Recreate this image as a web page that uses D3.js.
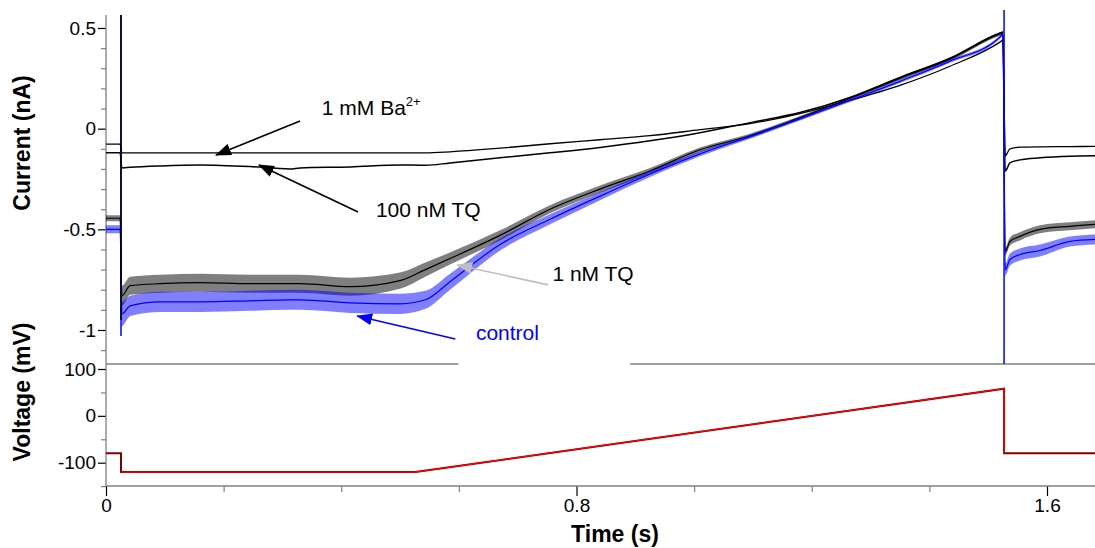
<!DOCTYPE html>
<html>
<head>
<meta charset="utf-8">
<title>Ramp currents</title>
<script src="https://d3js.org/d3.v7.min.js"></script>
<style>
  body { margin: 0; background: #fff; }
  svg { display: block; font-family: Arial, "Liberation Sans", sans-serif; }
  .title { font-size: 23px; font-weight: bold; }
  .note { font-size: 21px; }
</style>
</head>
<body>
<script>
// time points (s) shared by the current traces
var timeS = [0, 0.024, 0.027, 0.041, 0.092, 0.16, 0.245, 0.313, 0.33, 0.415, 0.5, 0.543, 0.585,
             0.67, 0.755, 0.84, 0.925, 1.01, 1.095, 1.18, 1.265, 1.35, 1.435, 1.52, 1.525,
             1.529, 1.537, 1.554, 1.588, 1.639, 1.682];

// currents (nA)
var ba = [-0.077, -0.077, -0.12, -0.12, -0.12, -0.12, -0.12, -0.12, -0.12, -0.12, -0.12, -0.12, -0.115,
          -0.097, -0.075, -0.055, -0.035, -0.005, 0.025, 0.075, 0.14, 0.215, 0.31, 0.43, 0.44,
          -0.135, -0.1, -0.092, -0.09, -0.089, -0.088];
var tq100 = [-0.12, -0.12, -0.195, -0.192, -0.185, -0.18, -0.188, -0.2, -0.195, -0.19, -0.18, -0.182, -0.17,
             -0.145, -0.12, -0.093, -0.06, -0.02, 0.03, 0.08, 0.155, 0.255, 0.35, 0.475, 0.48,
             -0.21, -0.17, -0.155, -0.145, -0.137, -0.135];
var tq1 = [-0.445, -0.445, -0.83, -0.78, -0.77, -0.765, -0.77, -0.77, -0.77, -0.785, -0.755, -0.7, -0.645,
           -0.53, -0.4, -0.3, -0.21, -0.105, -0.035, 0.055, 0.15, 0.25, 0.345, 0.47, 0.475,
           -0.61, -0.56, -0.535, -0.5, -0.485, -0.475];
var control = [-0.5, -0.5, -0.92, -0.88, -0.86, -0.86, -0.855, -0.85, -0.85, -0.865, -0.87, -0.85, -0.76,
               -0.575, -0.45, -0.335, -0.225, -0.125, -0.04, 0.048, 0.14, 0.235, 0.335, 0.455, 0.47,
               -0.7, -0.65, -0.625, -0.605, -0.56, -0.55];
// half width of the noise band (nA)
var noiseTq1 = [0.015, 0.015, 0.05, 0.045, 0.045, 0.045, 0.045, 0.045, 0.045, 0.045, 0.04, 0.035, 0.03,
                0.025, 0.02, 0.018, 0.015, 0.012, 0.01, 0.008, 0.008, 0.008, 0.008, 0.008, 0.008,
                0.02, 0.02, 0.02, 0.02, 0.02, 0.02];
var noiseCtl = [0.02, 0.02, 0.06, 0.05, 0.05, 0.05, 0.05, 0.05, 0.05, 0.05, 0.05, 0.045, 0.04,
                0.03, 0.025, 0.02, 0.015, 0.012, 0.01, 0.008, 0.008, 0.008, 0.008, 0.008, 0.008,
                0.03, 0.03, 0.03, 0.03, 0.025, 0.025];

// capacitive transients: time, top, bottom (nA)
var spikeOn = [0.0255, 0.565, -1.03, -0.95];
var spikeOff = [1.527, 0.59, -1.175];

// voltage protocol (mV)
var protoT = [0, 0.0255, 0.0255, 0.526, 1.527, 1.527, 1.682];
var protoV = [-80, -80, -120, -120, 58, -80, -80];

// ticks
var currentTicks = [-1, -0.5, 0, 0.5];
var currentMinor = [-1.1, -0.9, -0.8, -0.7, -0.6, -0.4, -0.3, -0.2, -0.1, 0.1, 0.2, 0.3, 0.4];
var voltageTicks = [-100, 0, 100];
var voltageMinor = [-150, -50, 50];
var timeTicks = [0, 0.8, 1.6];
var timeMinor = [0.2, 0.4, 0.6, 1.0, 1.2, 1.4];

// annotations: label, colour, text pos [t, nA], arrow tail, arrow tip
var notes = [
  {label: "1 mM Ba", sup: "2+", color: "#000", text: [0.367, 0.068], tail: [0.33, 0.038], tip: [0.187, -0.131]},
  {label: "100 nM TQ", color: "#000", text: [0.459, -0.439], tail: [0.4286, -0.414], tip: [0.26, -0.18]},
  {label: "1 nM TQ", color: "#000", arrow: "#bfbfbf", text: [0.759, -0.757], tail: [0.752, -0.776], tip: [0.597, -0.677]},
  {label: "control", color: "#0000ff", text: [0.629, -1.05], tail: [0.594, -1.045], tip: [0.427, -0.93]}
];

var W = 1095, H = 548;
var xLeft = 106, xRight = 1095, iTop = 15, iBot = 364, vBot = 486;
var fontFam = "Arial, 'Liberation Sans', sans-serif";

var svg = d3.select("body").append("svg")
    .attr("width", W)
    .attr("height", H);

var x = d3.scaleLinear().domain([0, 1.6]).range([106, 1047]);
var yI = d3.scaleLinear().domain([-1, 0.5]).range([330, 28]);
var yV = d3.scaleLinear().domain([-100, 100]).range([462.7, 369]);

var defs = svg.append("defs");
defs.append("clipPath").attr("id", "clipI")
  .append("rect").attr("x", xLeft).attr("y", 0).attr("width", xRight - xLeft).attr("height", iBot);

["#000", "#bfbfbf", "#0000ff"].forEach(function(c, k) {
  defs.append("marker")
      .attr("id", "arrow" + k)
      .attr("markerUnits", "userSpaceOnUse")
      .attr("viewBox", "0 0 16 12")
      .attr("markerWidth", 16).attr("markerHeight", 12)
      .attr("refX", 15).attr("refY", 6)
      .attr("orient", "auto")
    .append("path")
      .attr("d", "M0,0 L16,6 L0,12 Z")
      .attr("fill", c);
});

// ---- axes ----
var gray = "#808080";
function fmt(d) { return String(d); }

function styleAxis(g, color) {
  g.select(".domain").remove();
  g.attr("font-size", 19).attr("font-family", fontFam);
  g.selectAll(".tick line").attr("stroke", color).attr("stroke-width", 1.2);
  g.selectAll(".tick text").attr("fill", "#000");
}

svg.append("g").attr("transform", "translate(" + xLeft + ",0)")
    .call(d3.axisLeft(yI).tickValues(currentMinor).tickSize(5).tickFormat(""))
    .call(styleAxis, gray);
svg.append("g").attr("transform", "translate(" + xLeft + ",0)")
    .call(d3.axisLeft(yI).tickValues(currentTicks).tickSize(8).tickPadding(2).tickFormat(fmt))
    .call(styleAxis, "#000");

svg.append("g").attr("transform", "translate(" + xLeft + ",0)")
    .call(d3.axisLeft(yV).tickValues(voltageMinor).tickSize(5).tickFormat(""))
    .call(styleAxis, gray);
svg.append("g").attr("transform", "translate(" + xLeft + ",0)")
    .call(d3.axisLeft(yV).tickValues(voltageTicks).tickSize(8).tickPadding(2).tickFormat(fmt))
    .call(styleAxis, "#000");

svg.append("g").attr("transform", "translate(0," + vBot + ")")
    .call(d3.axisBottom(x).tickValues(timeMinor).tickSize(6).tickFormat(""))
    .call(styleAxis, gray);
svg.append("g").attr("transform", "translate(0," + vBot + ")")
    .call(d3.axisBottom(x).tickValues(timeTicks).tickSize(10).tickPadding(3).tickFormat(fmt))
    .call(styleAxis, "#000");

// axis lines
var frame = [
  [xLeft, iTop, xLeft, vBot],
  [xLeft, vBot, xRight, vBot],
  [xLeft, iBot, xRight, iBot]
];
svg.selectAll(".frame").data(frame).enter().append("line")
    .attr("x1", function(d) { return d[0]; }).attr("y1", function(d) { return d[1]; })
    .attr("x2", function(d) { return d[2]; }).attr("y2", function(d) { return d[3]; })
    .attr("stroke", gray).attr("stroke-width", 1.3);

// white box behind the "control" label cuts the panel divider
svg.append("rect")
    .attr("x", x(0.599)).attr("y", iBot - 4)
    .attr("width", x(0.891) - x(0.599)).attr("height", 8)
    .attr("fill", "#fff");

// ---- current traces ----
var plot = svg.append("g").attr("clip-path", "url(#clipI)");

function lineOf(vals) {
  return d3.line()
      .x(function(d, i) { return x(timeS[i]); })
      .y(function(d) { return yI(d); })
      .curve(d3.curveMonotoneX)(vals);
}
function bandOf(vals, noise) {
  return d3.area()
      .x(function(d, i) { return x(timeS[i]); })
      .y0(function(d, i) { return yI(d - noise[i]); })
      .y1(function(d, i) { return yI(d + noise[i]); })
      .curve(d3.curveMonotoneX)(vals);
}

plot.append("path").attr("d", lineOf(ba)).attr("fill", "none").attr("stroke", "#000").attr("stroke-width", 1.3);
plot.append("path").attr("d", lineOf(tq100)).attr("fill", "none").attr("stroke", "#000").attr("stroke-width", 1.5);

plot.append("path").attr("d", bandOf(tq1, noiseTq1)).attr("fill", "#000").attr("fill-opacity", 0.5);
plot.append("path").attr("d", lineOf(tq1)).attr("fill", "none").attr("stroke", "#000").attr("stroke-width", 1.2);

plot.append("path").attr("d", bandOf(control, noiseCtl)).attr("fill", "#0000ff").attr("fill-opacity", 0.5);
plot.append("path").attr("d", lineOf(control)).attr("fill", "none").attr("stroke", "#0000ff").attr("stroke-width", 1.2);

// transients
plot.append("line")
    .attr("x1", x(spikeOn[0])).attr("x2", x(spikeOn[0]))
    .attr("y1", yI(spikeOn[1])).attr("y2", yI(spikeOn[2]))
    .attr("stroke", "#0000ff").attr("stroke-width", 1.5);
plot.append("line")
    .attr("x1", x(spikeOn[0])).attr("x2", x(spikeOn[0]))
    .attr("y1", yI(spikeOn[1])).attr("y2", yI(spikeOn[3]))
    .attr("stroke", "#000").attr("stroke-width", 1.5);
plot.append("line")
    .attr("x1", x(spikeOff[0])).attr("x2", x(spikeOff[0]))
    .attr("y1", yI(spikeOff[1])).attr("y2", yI(spikeOff[2]))
    .attr("stroke", "#0000ff").attr("stroke-width", 1.5);

// ---- voltage protocol ----
var vLine = d3.line()
    .x(function(d) { return x(d[0]); })
    .y(function(d) { return yV(d[1]); });
var proto = protoT.map(function(t, i) { return [t, protoV[i]]; });
svg.append("path").attr("d", vLine(proto)).attr("fill", "none").attr("stroke", "#800000").attr("stroke-width", 2);
svg.append("path").attr("d", vLine(proto.slice(2, 6))).attr("fill", "none").attr("stroke", "#ff0000").attr("stroke-width", 1.3);

// ---- annotations ----
notes.forEach(function(n) {
  var ac = n.arrow || n.color;
  var mk = ac === "#000" ? 0 : (ac === "#bfbfbf" ? 1 : 2);
  svg.append("line")
      .attr("x1", x(n.tail[0])).attr("y1", yI(n.tail[1]))
      .attr("x2", x(n.tip[0])).attr("y2", yI(n.tip[1]))
      .attr("stroke", ac).attr("stroke-width", 1.6)
      .attr("marker-end", "url(#arrow" + mk + ")");
  var t = svg.append("text").attr("class", "note")
      .attr("x", x(n.text[0])).attr("y", yI(n.text[1]))
      .attr("fill", n.color)
      .text(n.label);
  if (n.sup) {
    t.append("tspan").attr("dy", -9).attr("font-size", 13).text(n.sup);
  }
});

// ---- axis titles ----
svg.append("text").attr("class", "title")
    .attr("transform", "translate(30,143) rotate(-90)")
    .attr("text-anchor", "middle")
    .text("Current (nA)");
svg.append("text").attr("class", "title")
    .attr("transform", "translate(30,392) rotate(-90)")
    .attr("text-anchor", "middle")
    .text("Voltage (mV)");
svg.append("text").attr("class", "title")
    .attr("x", 615).attr("y", 542)
    .attr("text-anchor", "middle")
    .text("Time (s)");
</script>
</body>
</html>
